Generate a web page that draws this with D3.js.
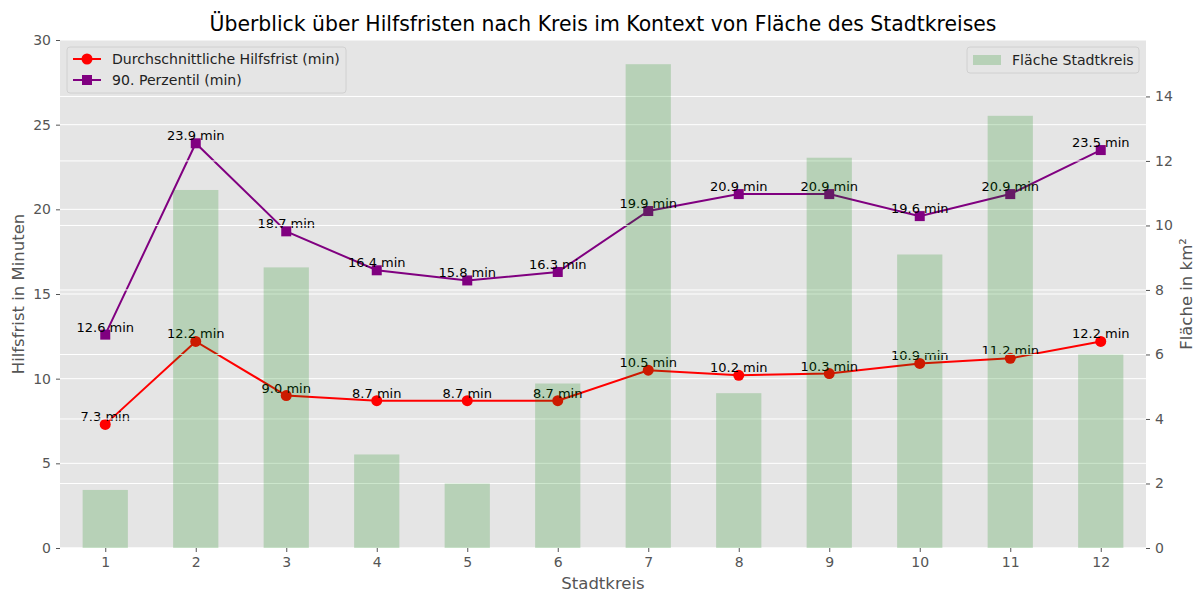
<!DOCTYPE html>
<html>
<head>
<meta charset="utf-8">
<script src="https://cdn.jsdelivr.net/npm/d3@7"></script>
<style>
  body { margin: 0; background: #fff; }
  text { font-family: "DejaVu Sans", sans-serif; }
</style>
</head>
<body>
<svg id="chart"></svg>
<script>
var kreise = [1, 2, 3, 4, 5, 6, 7, 8, 9, 10, 11, 12];
var avgFrist = [7.3, 12.2, 9.0, 8.7, 8.7, 8.7, 10.5, 10.2, 10.3, 10.9, 11.2, 12.2];
var p90Frist = [12.6, 23.9, 18.7, 16.4, 15.8, 16.3, 19.9, 20.9, 20.9, 19.6, 20.9, 23.5];
var flaeche = [1.8, 11.1, 8.7, 2.9, 2.0, 5.1, 15.0, 4.8, 12.1, 9.1, 13.4, 6.0];
var leftTicks = [0, 5, 10, 15, 20, 25, 30];
var rightTicks = [0, 2, 4, 6, 8, 10, 12, 14];

var width = 1196;
var height = 593;
var margin = {top: 40, right: 50, bottom: 45, left: 60};
var innerW = width - margin.left - margin.right;
var innerH = height - margin.top - margin.bottom;

var svg = d3.select('#chart')
    .attr('width', width)
    .attr('height', height);

var x = d3.scaleLinear().domain([0.5, 12.5]).range([0, innerW]);
var yL = d3.scaleLinear().domain([0, 30]).range([innerH, 0]);
var yR = d3.scaleLinear().domain([0, 15.75]).range([innerH, 0]);

var g = svg.append('g')
    .attr('transform', 'translate(' + margin.left + ',' + margin.top + ')');

g.append('rect')
    .attr('width', innerW)
    .attr('height', innerH)
    .attr('fill', '#e5e5e5');

// grid of left axis
g.selectAll('.gridL')
    .data(leftTicks)
  .enter().append('line')
    .attr('x1', 0).attr('x2', innerW)
    .attr('y1', d => yL(d)).attr('y2', d => yL(d))
    .attr('stroke', '#fff').attr('stroke-width', 1);

// lines
var line = d3.line()
    .x((d, i) => x(kreise[i]))
    .y(d => yL(d));

g.append('path')
    .datum(p90Frist)
    .attr('d', line)
    .attr('fill', 'none')
    .attr('stroke', 'purple')
    .attr('stroke-width', 2);

g.append('path')
    .datum(avgFrist)
    .attr('d', line)
    .attr('fill', 'none')
    .attr('stroke', 'red')
    .attr('stroke-width', 2);

g.selectAll('.sq')
    .data(p90Frist)
  .enter().append('rect')
    .attr('x', (d, i) => x(kreise[i]) - 5)
    .attr('y', d => yL(d) - 5)
    .attr('width', 10).attr('height', 10)
    .attr('fill', 'purple');

g.selectAll('.dot')
    .data(avgFrist)
  .enter().append('circle')
    .attr('cx', (d, i) => x(kreise[i]))
    .attr('cy', d => yL(d))
    .attr('r', 5.5)
    .attr('fill', 'red');

function labels(data) {
  g.selectAll(null)
      .data(data)
    .enter().append('text')
      .attr('x', (d, i) => x(kreise[i]))
      .attr('y', d => yL(d) - 3)
      .attr('text-anchor', 'middle')
      .attr('font-size', 13)
      .attr('fill', '#000')
      .text(d => d.toFixed(1) + ' min');
}
labels(p90Frist);
labels(avgFrist);

// grid of right axis
g.selectAll('.gridR')
    .data(rightTicks)
  .enter().append('line')
    .attr('x1', 0).attr('x2', innerW)
    .attr('y1', d => yR(d)).attr('y2', d => yR(d))
    .attr('stroke', '#fff').attr('stroke-width', 1);

// bars
g.selectAll('.bar')
    .data(flaeche)
  .enter().append('rect')
    .attr('x', (d, i) => x(kreise[i] - 0.25))
    .attr('width', x(1.25) - x(0.75))
    .attr('y', d => yR(d))
    .attr('height', d => innerH - yR(d))
    .attr('fill', 'green')
    .attr('fill-opacity', 0.2);

// axes
function styleAxis(sel) {
  sel.select('.domain').remove();
  sel.selectAll('.tick line').attr('stroke', '#555');
  sel.selectAll('.tick text').attr('fill', '#555').attr('font-size', 14)
      .style('font-family', '"DejaVu Sans", sans-serif');
}

g.append('g')
    .attr('transform', 'translate(0,' + innerH + ')')
    .call(d3.axisBottom(x).tickValues(kreise).tickSize(4).tickPadding(5))
    .call(styleAxis);

g.append('g')
    .call(d3.axisLeft(yL).tickValues(leftTicks).tickSize(4).tickPadding(5))
    .call(styleAxis);

g.append('g')
    .attr('transform', 'translate(' + innerW + ',0)')
    .call(d3.axisRight(yR).tickValues(rightTicks).tickSize(4).tickPadding(5))
    .call(styleAxis);

// axis labels and title
svg.append('text')
    .attr('x', margin.left + innerW / 2)
    .attr('y', 589)
    .attr('text-anchor', 'middle')
    .attr('font-size', 16.5)
    .attr('fill', '#555')
    .text('Stadtkreis');

svg.append('text')
    .attr('transform', 'translate(24,' + (margin.top + innerH / 2) + ') rotate(-90)')
    .attr('text-anchor', 'middle')
    .attr('font-size', 16.5)
    .attr('fill', '#555')
    .text('Hilfsfrist in Minuten');

svg.append('text')
    .attr('transform', 'translate(1192,' + (margin.top + innerH / 2) + ') rotate(-90)')
    .attr('text-anchor', 'middle')
    .attr('font-size', 16.5)
    .attr('fill', '#555')
    .text('Fläche in km²');

svg.append('text')
    .attr('x', margin.left + innerW / 2)
    .attr('y', 31)
    .attr('text-anchor', 'middle')
    .attr('font-size', 20.4)
    .attr('fill', '#000')
    .text('Überblick über Hilfsfristen nach Kreis im Kontext von Fläche des Stadtkreises');

// legend left
var legL = g.append('g').attr('transform', 'translate(7,7)');
legL.append('rect')
    .attr('width', 279).attr('height', 46).attr('rx', 3)
    .attr('fill', '#e5e5e5').attr('stroke', '#ccc').attr('stroke-width', 0.8);
var legItems = [
  {name: 'Durchschnittliche Hilfsfrist (min)', color: 'red', shape: 'circle'},
  {name: '90. Perzentil (min)', color: 'purple', shape: 'square'}
];
legItems.forEach(function(it, i) {
  var yy = 12 + i * 21;
  legL.append('line')
      .attr('x1', 6).attr('x2', 34).attr('y1', yy).attr('y2', yy)
      .attr('stroke', it.color).attr('stroke-width', 2);
  if (it.shape === 'circle') {
    legL.append('circle').attr('cx', 20).attr('cy', yy).attr('r', 5.5).attr('fill', it.color);
  } else {
    legL.append('rect').attr('x', 15).attr('y', yy - 5).attr('width', 10).attr('height', 10).attr('fill', it.color);
  }
  legL.append('text')
      .attr('x', 45).attr('y', yy + 5)
      .attr('font-size', 14.1)
      .attr('fill', '#222')
      .text(it.name);
});

// legend right
var legR = g.append('g').attr('transform', 'translate(' + (innerW - 179) + ',7)');
legR.append('rect')
    .attr('width', 172).attr('height', 26).attr('rx', 3)
    .attr('fill', '#e5e5e5').attr('stroke', '#ccc').attr('stroke-width', 0.8);
legR.append('rect')
    .attr('x', 6).attr('y', 8).attr('width', 28).attr('height', 10)
    .attr('fill', 'green').attr('fill-opacity', 0.2);
legR.append('text')
    .attr('x', 45).attr('y', 18)
    .attr('font-size', 14.1)
    .attr('fill', '#222')
    .text('Fläche Stadtkreis');
</script>
</body>
</html>
